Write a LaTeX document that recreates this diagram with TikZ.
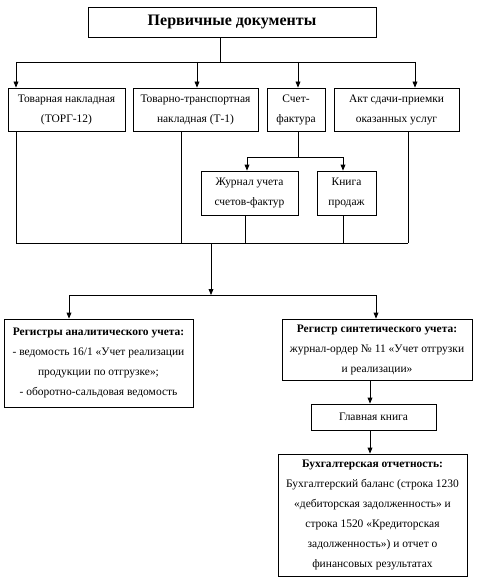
\documentclass[tikz,border=0pt]{standalone}
\usepackage{fontspec}
\setmainfont{Liberation Serif}
\usetikzlibrary{arrows.meta}
\begin{document}
\begin{tikzpicture}[x=0.75pt, y=-0.75pt,
        box/.style={draw, line width=0.6pt, inner sep=0pt, align=center, font=\fontsize{8.6}{15}\selectfont},
        ln/.style={line width=0.6pt},
        arr/.style={ln, -{Triangle[length=4.5pt, width=3.6pt]}}]
    \useasboundingbox (0,0) rectangle (476,581);
    \node [box, minimum width=216pt, minimum height=22.5pt, font=\fontsize{12}{15}\selectfont\bfseries] (prim) at (232,22) {Первичные документы};
    \node [box, minimum width=87.75pt, minimum height=32.25pt] (tov) at (66.5,109.5) {Товарная накладная\\(ТОРГ-12)};
    \node [box, minimum width=93.75pt, minimum height=32.25pt] (ttn) at (195.5,109.5) {Товарно-транспортная\\накладная (Т-1)};
    \node [box, minimum width=43.5pt, minimum height=32.25pt] (sf) at (296,109.5) {Счет-\\фактура};
    \node [box, minimum width=93.75pt, minimum height=32.25pt] (akt) at (396.5,109.5) {Акт сдачи-приемки\\оказанных услуг};
    \node [box, minimum width=72.75pt, minimum height=33pt] (jour) at (249.5,193) {Журнал учета\\счетов-фактур};
    \node [box, minimum width=44.25pt, minimum height=33pt] (kniga) at (346.5,193) {Книга\\продаж};
    \node [box, minimum width=141.75pt, minimum height=66pt] (areg) at (98.5,363) {\textbf{Регистры аналитического учета:}\\- ведомость 16/1 «Учет реализации\\продукции по отгрузке»;\\- оборотно-сальдовая ведомость};
    \node [box, minimum width=142.5pt, minimum height=45.75pt] (sreg) at (377,349.5) {\textbf{Регистр синтетического учета:}\\журнал-ордер № 11 «Учет отгрузки\\и реализации»};
    \node [box, minimum width=93.75pt, minimum height=19.5pt] (glav) at (373.5,417) {Главная книга};
    \node [box, minimum width=141.75pt, minimum height=91.5pt] (otch) at (372.5,515) {\textbf{Бухгалтерская отчетность:}\\Бухгалтерский баланс (строка 1230\\«дебиторская задолженность» и\\строка 1520 «Кредиторская\\задолженность») и отчет о\\финансовых результатах};
    \coordinate (top) at (220,62);
    \draw [ln] (prim.south -| top) -- (top);
    \foreach \n/\x in {tov/16, ttn/197, sf/298, akt/415}
        {\coordinate (a\n) at (\x,62);
        \draw [arr] (a\n) -- (a\n |- \n.north);}
    \draw [ln] (atov) -- (aakt);
    \coordinate (split) at (298,157);
    \draw [ln] (sf.south -| split) -- (split);
    \foreach \n/\x in {jour/247, kniga/343}
        {\coordinate (b\n) at (\x,157);
        \draw [arr] (b\n) -- (b\n |- \n.north);}
    \draw [ln] (bjour) -- (bkniga);
    \foreach \n/\x in {tov/16, ttn/181, akt/408, jour/245, kniga/343}
        {\coordinate (c\n) at (\x,243);
        \draw [ln] (\n.south -| c\n) -- (c\n);}
    \draw [ln] (ctov) -- (cakt);
    \coordinate (join) at (211,243);
    \coordinate (fork) at (211,295);
    \draw [arr] (join) -- (fork);
    \foreach \n/\x in {areg/69, sreg/376}
        {\coordinate (d\n) at (\x,295);
        \draw [arr] (d\n) -- (d\n |- \n.north);}
    \draw [ln] (dareg) -- (dsreg);
    \coordinate (down) at (370,0);
    \draw [arr] (sreg.south -| down) -- (glav.north -| down);
    \draw [arr] (glav.south -| down) -- (otch.north -| down);
\end{tikzpicture}
\end{document}
